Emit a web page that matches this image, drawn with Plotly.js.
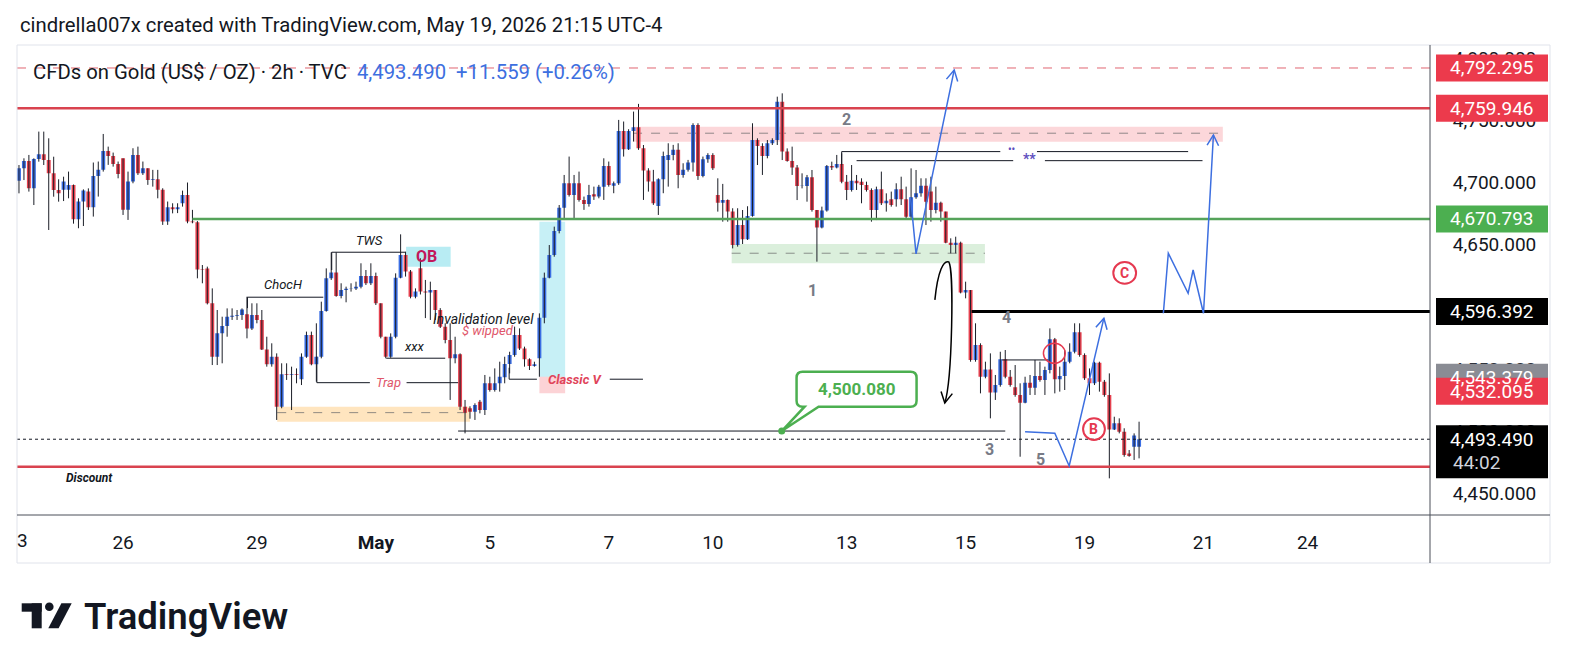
<!DOCTYPE html>
<html><head><meta charset="utf-8">
<script src="https://cdn.plot.ly/plotly-3.0.1.min.js"></script>
<style>html,body{margin:0;padding:0;background:#fff;}#chart{width:1574px;height:667px;}</style>
</head><body><div id="chart"></div>
<script>
// ---------- DATA: XAUUSD (TVC) 2h candles ----------
const openP = [
4701.6,4711.5,4717.4,4695.4,4719.1,4722.8,4718.2,4707.5,4694.1,4694.2,
4694.2,4698.2,4670.5,4684.8,4692.8,4680.2,4705.4,4710.3,4725.5,4721.5,
4715.1,4719.6,4678.1,4700.9,4722.3,4707.6,4711.6,4702.2,4702.7,4694.2,
4668.7,4680.2,4678.6,4683.4,4690.1,4668.7,4668.2,4630.2,4631.0,4602.9,
4559.9,4578.7,4584.6,4592.1,4592.9,4593.5,4594.0,4582.7,4593.5,4589.5,
4565.8,4553.8,4559.9,4519.7,4545.7,4545.2,4545.7,4541.7,4559.9,4577.4,
4553.8,4559.9,4596.7,4623.0,4627.6,4608.8,4613.6,4614.7,4614.9,4616.3,
4624.9,4619.0,4624.9,4602.9,4576.0,4559.9,4576.0,4623.5,4641.8,4628.4,
4608.2,4631.1,4612.3,4611.5,4613.6,4597.5,4584.1,4573.4,4558.7,4561.8,
4519.7,4518.4,4515.7,4523.7,4517.0,4538.5,4533.1,4538.5,4543.3,4554.0,
4561.3,4577.4,4566.6,4557.8,4552.4,4558.6,4591.3,4623.5,4641.8,4661.1,
4679.9,4699.5,4690.1,4699.5,4686.1,4682.9,4690.6,4688.8,4696.8,4713.5,
4697.5,4699.5,4741.6,4726.9,4741.6,4744.6,4727.7,4709.7,4700.9,4681.3,
4702.7,4718.3,4722.3,4726.4,4706.2,4710.3,4716.2,4746.5,4705.4,4718.8,
4722.3,4690.1,4683.9,4686.0,4676.7,4649.8,4665.9,4654.4,4673.2,4734.3,
4729.5,4721.5,4731.7,4734.3,4765.2,4725.0,4717.4,4712.1,4697.3,4697.3,
4704.3,4678.0,4664.0,4677.5,4713.4,4712.1,4715.0,4700.8,4694.1,4701.6,
4700.8,4698.1,4694.1,4678.0,4694.6,4683.4,4686.6,4686.6,4694.6,4686.6,
4672.6,4688.2,4691.4,4697.6,4692.8,4678.0,4683.9,4676.7,4651.7,4649.8,
4651.7,4611.5,4613.6,4557.3,4569.3,4543.8,4549.7,4531.0,4537.1,4557.8,
4543.8,4535.3,4529.1,4522.9,4539.0,4535.0,4544.4,4541.2,4549.2,4573.9,
4541.7,4544.4,4555.9,4563.9,4579.5,4561.3,4542.5,4538.5,4555.1,4539.8,
4529.1,4501.4,4506.3,4499.6,4482.1,4487.5,4487.5];
const highP = [
4714.2,4719.6,4722.3,4719.6,4741.1,4741.1,4735.7,4720.9,4702.7,4704.8,
4708.9,4698.5,4687.4,4694.6,4695.4,4716.2,4717.0,4739.2,4729.0,4724.2,
4717.0,4719.6,4708.9,4727.7,4729.0,4717.0,4711.6,4710.3,4710.3,4695.5,
4684.8,4683.4,4683.4,4693.6,4700.1,4678.1,4669.1,4633.7,4632.4,4614.9,
4597.5,4592.1,4598.8,4598.8,4597.5,4598.8,4608.2,4602.9,4602.9,4597.5,
4576.0,4570.7,4562.6,4554.6,4554.6,4551.9,4550.5,4562.6,4580.1,4580.1,
4586.8,4604.2,4631.0,4643.9,4643.9,4619.0,4616.3,4619.0,4620.3,4635.1,
4629.7,4635.1,4627.6,4602.9,4576.0,4578.7,4627.0,4658.4,4644.5,4629.7,
4614.9,4639.1,4621.7,4620.3,4613.6,4599.0,4586.8,4586.8,4576.0,4562.6,
4525.1,4520.0,4522.4,4525.1,4545.2,4543.8,4550.5,4555.9,4559.9,4563.9,
4584.1,4582.7,4568.0,4558.6,4555.9,4594.8,4627.6,4649.8,4664.6,4682.0,
4706.2,4721.0,4706.2,4708.9,4688.8,4698.2,4696.8,4698.2,4719.6,4717.0,
4700.9,4750.5,4749.2,4743.0,4757.2,4763.4,4730.3,4711.6,4710.3,4703.5,
4725.0,4731.7,4730.4,4731.7,4715.6,4718.3,4747.8,4747.8,4721.0,4723.7,
4723.7,4703.5,4699.0,4686.5,4679.4,4679.4,4678.0,4681.0,4747.8,4735.7,
4731.7,4734.3,4735.7,4769.2,4771.9,4727.6,4729.0,4714.2,4707.5,4706.2,
4710.2,4678.0,4680.7,4714.2,4716.9,4722.3,4723.6,4706.2,4714.2,4706.2,
4703.5,4700.8,4695.4,4696.8,4708.9,4691.4,4692.8,4699.5,4704.8,4696.8,
4711.5,4710.2,4703.5,4703.5,4704.8,4696.8,4684.7,4676.7,4655.2,4656.5,
4652.5,4620.3,4613.6,4586.8,4570.7,4555.9,4562.6,4545.2,4563.9,4565.3,
4549.2,4553.2,4538.5,4543.8,4545.2,4557.3,4555.9,4551.9,4582.7,4575.0,
4551.9,4565.3,4570.7,4586.8,4586.8,4562.6,4550.5,4555.9,4555.9,4541.2,
4546.5,4511.6,4510.3,4502.3,4484.8,4498.2,4507.6];
const lowP = [
4691.4,4702.1,4692.8,4682.0,4716.9,4714.2,4661.9,4688.7,4684.7,4685.2,
4687.4,4667.0,4663.3,4665.1,4678.0,4672.7,4688.8,4708.9,4714.3,4712.9,
4703.5,4674.0,4670.0,4699.5,4706.2,4706.2,4698.2,4696.8,4687.4,4666.0,
4666.0,4675.3,4675.5,4680.7,4667.3,4667.3,4623.0,4619.0,4602.0,4553.2,
4553.2,4554.6,4576.0,4589.5,4589.5,4589.5,4574.7,4581.4,4586.8,4565.3,
4551.9,4551.9,4509.0,4518.4,4541.2,4517.0,4538.5,4537.1,4559.0,4553.0,
4539.8,4558.6,4596.2,4621.7,4608.2,4606.9,4603.7,4612.3,4613.6,4614.9,
4617.6,4617.6,4601.5,4574.7,4558.6,4559.0,4574.7,4623.0,4624.4,4606.9,
4606.9,4610.0,4591.0,4589.5,4589.5,4583.0,4570.7,4525.1,4554.6,4517.0,
4498.2,4510.0,4509.0,4514.3,4513.0,4531.8,4531.8,4531.8,4538.5,4546.5,
4559.9,4565.3,4551.9,4549.2,4551.9,4543.8,4586.8,4623.0,4640.4,4659.2,
4669.9,4688.8,4671.3,4684.7,4678.1,4680.7,4686.1,4687.4,4686.1,4696.8,
4691.5,4698.2,4721.0,4726.3,4733.1,4726.4,4686.1,4692.8,4682.1,4674.0,
4691.5,4696.8,4718.0,4695.5,4704.0,4708.9,4708.9,4702.2,4704.3,4716.0,
4710.2,4676.7,4668.6,4668.6,4647.1,4648.5,4650.6,4653.9,4672.6,4714.2,
4706.2,4719.6,4730.3,4730.3,4718.2,4716.9,4706.2,4686.0,4695.4,4684.7,
4676.7,4636.4,4663.2,4676.7,4710.2,4711.5,4699.5,4686.0,4692.8,4694.1,
4683.4,4692.8,4668.6,4669.9,4682.0,4676.7,4680.7,4680.7,4682.0,4671.3,
4669.9,4687.0,4688.7,4665.9,4668.6,4675.3,4668.6,4651.2,4643.1,4643.1,
4610.9,4606.9,4555.9,4555.9,4530.4,4542.5,4510.3,4525.1,4535.8,4542.5,
4535.8,4527.7,4479.4,4522.4,4529.1,4529.1,4539.8,4529.1,4546.5,4530.4,
4531.8,4533.1,4554.6,4562.6,4559.9,4541.2,4529.1,4537.1,4531.8,4527.7,
4462.0,4500.9,4498.2,4479.4,4479.4,4476.8,4478.1];
const closeP = [
4711.5,4717.4,4695.4,4719.1,4722.8,4718.2,4707.5,4694.1,4691.4,4700.9,
4698.2,4670.5,4684.8,4693.6,4680.2,4705.4,4710.3,4725.5,4721.5,4715.1,
4707.0,4678.1,4700.9,4722.3,4707.6,4711.6,4702.2,4702.7,4694.2,4668.7,
4680.2,4678.6,4680.2,4690.1,4668.7,4668.2,4630.2,4629.7,4602.9,4559.9,
4578.7,4584.6,4592.1,4592.9,4593.5,4598.0,4582.7,4593.5,4589.5,4565.8,
4553.8,4559.9,4519.7,4545.7,4545.2,4545.7,4545.2,4559.9,4577.4,4553.8,
4559.9,4596.7,4623.0,4627.6,4608.8,4613.6,4614.7,4614.9,4616.3,4624.9,
4619.0,4624.9,4602.9,4576.0,4559.9,4576.0,4623.5,4641.8,4628.4,4608.2,
4612.3,4612.3,4611.5,4613.6,4597.5,4584.1,4573.4,4558.7,4561.8,4519.7,
4514.9,4515.7,4521.0,4517.0,4538.5,4533.1,4538.5,4543.8,4554.0,4561.3,
4577.4,4566.6,4557.8,4552.4,4553.8,4591.3,4623.5,4641.8,4661.1,4679.9,
4699.5,4690.1,4699.5,4686.1,4682.9,4690.1,4688.8,4696.8,4713.5,4698.2,
4699.5,4741.6,4726.9,4741.6,4744.6,4727.7,4709.7,4700.9,4683.4,4702.7,
4721.5,4722.3,4726.4,4706.2,4710.3,4716.2,4746.5,4705.4,4718.8,4722.3,
4711.6,4683.9,4686.0,4676.7,4649.8,4665.9,4654.4,4673.2,4734.3,4729.5,
4721.5,4731.7,4734.3,4765.2,4725.0,4717.4,4712.1,4697.3,4697.6,4704.3,
4678.0,4664.0,4677.5,4713.4,4712.1,4715.0,4700.8,4694.1,4701.6,4699.5,
4698.1,4694.1,4678.0,4694.6,4683.4,4685.5,4682.0,4694.6,4686.6,4672.6,
4688.2,4691.4,4697.6,4684.7,4678.0,4683.9,4676.7,4651.7,4649.8,4651.7,
4611.5,4613.6,4557.3,4569.3,4543.8,4549.7,4531.0,4537.1,4557.8,4543.8,
4537.1,4529.1,4522.9,4539.0,4535.0,4544.4,4541.2,4549.2,4573.9,4541.7,
4544.4,4555.9,4563.9,4579.5,4561.3,4542.5,4538.5,4555.1,4539.8,4529.1,
4501.4,4506.3,4499.6,4480.8,4480.0,4496.4,4493.49];

// day labels on the time axis (bar index of each label)
const dayTickIndex = [21, 48, 72, 95, 119, 140, 167, 191, 215, 239, 260];
const dayTickText  = ['26', '29', '<b>May</b>', '5', '7', '10', '13', '15', '19', '21', '24'];

// horizontal levels drawn on the chart
const levelTarget   = 4792.295;
const levelRedTop   = 4759.946;
const levelGreen    = 4670.793;
const levelKey      = 4596.392;
const levelGreyTag  = 4543.379;
const levelRedTag   = 4532.095;
const levelLast     = 4493.490;
const levelDiscount = 4471.4;
const calloutPrice  = 4500.080;
const countdown     = '44:02';

// ---------- geometry helpers ----------
const W = 1574, H = 667;
const PL = 17, PR = 1430, PT = 45, PB = 515;
const XR = [-0.4, 284.7], YR = [4432.5, 4810.8];
const xp = i => PL + (i - XR[0]) / (XR[1] - XR[0]) * (PR - PL);
const yp = p => PB - (p - YR[0]) / (YR[1] - YR[0]) * (PB - PT);
const xi = px => XR[0] + (px - PL) / (PR - PL) * (XR[1] - XR[0]);
const yv = py => YR[0] + (PB - py) / (PB - PT) * (YR[1] - YR[0]);
const paperX = px => (px - PL) / (PR - PL);
const paperY = py => (PB - py) / (PB - PT);
const fmt = v => v.toLocaleString('en-US', {minimumFractionDigits: 3, maximumFractionDigits: 3});

const idx = openP.map((_, i) => i);
const BLUE = '#3b6ee3', RED = '#e5414f';
const FONT = 'Roboto, "Noto Sans", sans-serif';

// wicks
const wx = [], wy = [];
idx.forEach(i => { wx.push(i, i, null); wy.push(lowP[i], highP[i], null); });

const traces = [
  {type: 'scatter', mode: 'lines', x: wx, y: wy, line: {color: '#1b1e27', width: 1}, hoverinfo: 'skip', showlegend: false},
  {type: 'candlestick', x: idx, open: openP, high: highP, low: lowP, close: closeP,
   increasing: {fillcolor: BLUE, line: {color: BLUE, width: 0}},
   decreasing: {fillcolor: RED, line: {color: RED, width: 0}},
   whiskerwidth: 0, hoverinfo: 'skip', showlegend: false}
];

const shapes = [];
const ann = [];
function hline(y, x0, x1, color, width, dash, layer) {
  shapes.push({type: 'line', xref: 'x', yref: 'y', x0: x0, x1: x1, y0: y, y1: y, layer: layer || 'above',
    line: {color: color, width: width, dash: dash || 'solid'}});
}
function fullLine(y, color, width, dash) {
  shapes.push({type: 'line', xref: 'paper', yref: 'y', x0: 0, x1: 1, y0: y, y1: y, layer: 'above',
    line: {color: color, width: width, dash: dash || 'solid'}});
}
function seg(x0, y0, x1, y1, color, width) {
  shapes.push({type: 'line', xref: 'x', yref: 'y', x0: x0, y0: y0, x1: x1, y1: y1, layer: 'above',
    line: {color: color, width: width}});
}
function zone(x0, x1, y0, y1, fill) {
  shapes.push({type: 'rect', xref: 'x', yref: 'y', x0: x0, x1: x1, y0: y0, y1: y1, layer: 'below',
    fillcolor: fill, line: {width: 0}});
}
function poly(pts, color, width) {
  const d = pts.map((p, k) => (k ? 'L' : 'M') + p[0] + ',' + p[1]).join(' ');
  shapes.push({type: 'path', xref: 'x', yref: 'y', path: d, layer: 'above', line: {color: color, width: width}});
}
function arrowHead(tx, ty, fx, fy, color, width) {
  const TX = xp(tx), TY = yp(ty), FX = xp(fx), FY = yp(fy);
  const a = Math.atan2(FY - TY, FX - TX), L = 12, s = 0.5;
  const p1 = [xi(TX + L * Math.cos(a + s)), yv(TY + L * Math.sin(a + s))];
  const p2 = [xi(TX + L * Math.cos(a - s)), yv(TY + L * Math.sin(a - s))];
  poly([p1, [tx, ty], p2], color, width);
}
function circle(x0, x1, y0, y1, color, width) {
  shapes.push({type: 'circle', xref: 'x', yref: 'y', x0: x0, x1: x1, y0: y0, y1: y1, layer: 'above',
    line: {color: color, width: width}});
}
function text(x, y, t, size, color, extra) {
  ann.push(Object.assign({xref: 'x', yref: 'y', x: x, y: y, text: t, showarrow: false,
    font: {family: FONT, size: size, color: color}, xanchor: 'center', yanchor: 'middle'}, extra || {}));
}
function pText(px, py, t, size, color, anchor, weight) {
  ann.push({xref: 'paper', yref: 'paper', x: paperX(px), y: paperY(py), text: t, showarrow: false,
    font: {family: FONT, size: size, color: color, weight: weight || 400}, xanchor: anchor || 'left', yanchor: 'middle'});
}
function pRect(x0, y0, x1, y1, fill, lineColor, lw) {
  shapes.push({type: 'rect', xref: 'paper', yref: 'paper', x0: paperX(x0), x1: paperX(x1), y0: paperY(y1), y1: paperY(y0),
    layer: 'above', fillcolor: fill, line: {color: lineColor || fill, width: lw === undefined ? 0 : lw}});
}
function pPath(pts, fill) {
  const d = pts.map((p, k) => (k ? 'L' : 'M') + paperX(p[0]) + ',' + paperY(p[1])).join(' ') + ' Z';
  shapes.push({type: 'path', xref: 'paper', yref: 'paper', path: d, layer: 'above', fillcolor: fill, line: {width: 0}});
}

// ---------- zones ----------
zone(123.9, 242.9, 4733.0, 4745.1, 'rgba(242,54,69,0.20)');
hline(4739.8, 123.9, 242.9, 'rgba(110,110,110,0.75)', 1, 'dash', 'below');
zone(143.8, 194.9, 4635.1, 4650.6, 'rgba(76,175,80,0.20)');
hline(4643.2, 143.8, 194.9, 'rgba(110,110,110,0.75)', 1, 'dash', 'below');
zone(52.1, 91.0, 4507.6, 4519.7, 'rgba(255,152,0,0.25)');
hline(4514.9, 52.1, 91.0, 'rgba(110,110,110,0.75)', 1, 'dash', 'below');
zone(105.0, 110.2, 4543.8, 4668.6, 'rgba(0,188,212,0.22)');
zone(105.0, 110.2, 4530.5, 4543.8, 'rgba(242,54,69,0.22)');
zone(78.1, 87.1, 4632.4, 4648.5, 'rgba(0,188,212,0.28)');

// ---------- horizontal levels ----------
fullLine(levelTarget, '#e06672', 1, 'dash');
fullLine(levelRedTop, '#d9434f', 2.5);
hline(levelGreen, 35, XR[1], '#55a35a', 2.5);
hline(levelKey, 192.2, XR[1], '#000000', 3);
fullLine(levelDiscount, '#d9434f', 2.5);
fullLine(levelLast, '#131722', 1, 'dot');

// ---------- structure lines ----------
const BLK = '#131722';
hline(4607.8, 46.1, 61.4, BLK, 1); seg(46.1, 4607.8, 46.1, 4599, BLK, 1);
hline(4644.0, 63.1, 77.9, BLK, 1); seg(63.1, 4644.0, 63.1, 4629.7, BLK, 1);
hline(4558.7, 74.1, 86.0, BLK, 1);
hline(4539.0, 60.1, 70.8, BLK, 1); hline(4539.0, 78.2, 88.6, BLK, 1); seg(60.1, 4560, 60.1, 4539.0, BLK, 1);
hline(4541.8, 98.9, 104.5, BLK, 1); hline(4541.8, 119.2, 125.9, BLK, 1); seg(98.9, 4551, 98.9, 4541.8, BLK, 1);
hline(calloutPrice, 88.6, 199.0, BLK, 1);
hline(4725.0, 166.0, 198.0, BLK, 1); hline(4725.0, 205.4, 235.9, BLK, 1); seg(166.0, 4725.0, 166.0, 4714.2, BLK, 1);
hline(4717.7, 169.0, 200.6, BLK, 1); hline(4717.7, 207.0, 238.8, BLK, 1);
hline(4557.3, 198.3, 207.7, BLK, 1);

// ---------- projections (blue) ----------
const PB_BLUE = '#3d6fe0';
const projA = [[179.9, 4688.2], [181.0, 4642.6], [188.7, 4790.7]];
const projB = [[203.0, 4499.6], [209.0, 4498.3], [211.9, 4472.0], [218.9, 4590.9]];
const projC = [[230.9, 4594.9], [231.9, 4643.2], [235.9, 4611.0], [236.9, 4629.7], [239.0, 4594.9], [241.0, 4738.4]];
[projA, projB, projC].forEach(p => {
  poly(p, PB_BLUE, 1.5);
  const n = p.length;
  arrowHead(p[n - 1][0], p[n - 1][1], p[n - 2][0], p[n - 2][1], PB_BLUE, 1.5);
});

// black curved arrow
shapes.push({type: 'path', xref: 'x', yref: 'y', layer: 'above', line: {color: '#000', width: 1.5},
  path: 'M184.8,4605.6 C185.4,4629.7 186.6,4637.8 187.6,4636.2 C188.7,4629.7 188.3,4541.2 186.8,4522.7'});
arrowHead(186.8, 4522.7, 187.6, 4540, '#000', 1.5);

// circles
circle(214.7, 219.1, 4492.9, 4510.4, '#e53950', 2);
circle(220.8, 225.4, 4618.6, 4636.1, '#e53950', 2);
circle(206.7, 211.1, 4554.6, 4570.7, '#e53950', 1.5);

// callout 4,500.080
(function () {
  const cx = 169.0, cy = 4533.8, w = 120, h = 35, r = 6, tipX = 153.9, tipY = calloutPrice;
  const X = xp(cx), Y = yp(cy), l = X - w / 2, rr = X + w / 2, t = Y - h / 2, b = Y + h / 2;
  const P = (px, py) => xi(px).toFixed(3) + ',' + yv(py).toFixed(3);
  const d = `M${P(l + r, t)} L${P(rr - r, t)} Q${P(rr, t)} ${P(rr, t + r)} L${P(rr, b - r)} Q${P(rr, b)} ${P(rr - r, b)} ` +
            `L${P(l + 22, b)} L${tipX},${tipY} L${P(l + 8, b)} L${P(l + r, b)} Q${P(l, b)} ${P(l, b - r)} L${P(l, t + r)} Q${P(l, t)} ${P(l + r, t)} Z`;
  shapes.push({type: 'path', xref: 'x', yref: 'y', path: d, layer: 'above', fillcolor: '#ffffff', line: {color: '#4caf50', width: 2.5}});
  const TX = xp(tipX), TY = yp(tipY);
  shapes.push({type: 'circle', xref: 'x', yref: 'y', x0: xi(TX - 3.5), x1: xi(TX + 3.5), y0: yv(TY + 3.5), y1: yv(TY - 3.5),
    layer: 'above', fillcolor: '#4caf50', line: {width: 0}});
  text(cx, cy, '<b>' + fmt(calloutPrice) + '</b>', 17, '#4caf50');
})();

// ---------- chart texts ----------
text(53.3, 4617.7, '<i>ChocH</i>', 13, BLK);
text(70.7, 4653.3, '<i>TWS</i>', 13, BLK);
text(82.3, 4640.8, '<b>OB</b>', 16, '#c2185b');
text(79.9, 4568.0, '<i>xxx</i>', 13, BLK);
text(74.5, 4539.3, '<i>Trap</i>', 13, '#e0566a');
text(93.8, 4590.3, '<i>Invalidation level</i>', 14, BLK);
text(94.6, 4581.4, '<i>$ wipped</i>', 13, '#e0566a');
text(112.2, 4541.8, '<b><i>Classic V</i></b>', 13, '#e0445a');
text(14.3, 4462.1, '<b><i>Discount</i></b>', 12, BLK);
text(160.1, 4613.6, '<b>1</b>', 16, '#787b86');
text(167.0, 4750.5, '<b>2</b>', 16, '#787b86');
text(195.9, 4485.4, '<b>3</b>', 16, '#787b86');
text(199.2, 4591.3, '<b>4</b>', 16, '#787b86');
text(206.2, 4477.4, '<b>5</b>', 16, '#787b86');
text(216.9, 4501.6, '<b>B</b>', 14, '#e53950');
text(223.1, 4627.4, '<b>C</b>', 14, '#e53950');
text(200.2, 4727.0, '<b>••</b>', 10, '#5e4fc0');
text(203.9, 4719.4, '<b>**</b>', 14, '#5e4fc0');

// ---------- frame ----------
pRect(17, 45, 1550, 563, 'rgba(0,0,0,0)', '#e0e3eb', 1);
shapes.push({type: 'line', xref: 'paper', yref: 'paper', x0: paperX(17), x1: paperX(1550), y0: paperY(515), y1: paperY(515), layer: 'above', line: {color: '#4a4e59', width: 1}});
shapes.push({type: 'line', xref: 'paper', yref: 'paper', x0: paperX(1430), x1: paperX(1430), y0: paperY(45), y1: paperY(563), layer: 'above', line: {color: '#4a4e59', width: 1}});

// ---------- price-scale tags ----------
function tag(price, bg, fg, label) {
  const y = yp(price);
  pRect(1436, y - 13.5, 1548, y + 13.5, bg);
  pText(1492, y, label, 19, fg, 'center');
}
tag(levelTarget, '#ec3a4c', '#ffffff', fmt(levelTarget));
tag(levelRedTop, '#ec3a4c', '#ffffff', fmt(levelRedTop));
tag(levelGreen, '#4caf50', '#ffffff', fmt(levelGreen));
tag(levelKey, '#000000', '#ffffff', fmt(levelKey));
tag(levelGreyTag, '#8a8c94', '#ffffff', fmt(levelGreyTag));
tag(levelRedTag, '#ec3a4c', '#ffffff', fmt(levelRedTag));
(function () {
  const y = yp(levelLast);
  pRect(1436, y - 14, 1548, y + 39, '#000000');
  pText(1492, y, fmt(levelLast), 19, '#ffffff', 'center');
  pText(1451, y + 23, countdown, 19, '#d1d4dc', 'left');
})();

// ---------- header / footer ----------
pText(18, 25, 'cindrella007x created with TradingView.com, May 19, 2026 21:15 UTC-4', 20.3, '#131722');
pText(31, 72, 'CFDs on Gold (US$ / OZ) · 2h · TVC&nbsp;&nbsp;<span style="color:#3d6fe0">4,493.490&nbsp;&nbsp;+11.559 (+0.26%)</span>', 20.3, '#131722');
pText(22, 540, '3', 19, '#131722', 'center');

// TradingView logo
pRect(21.7, 603.3, 41.7, 611.7, '#131722');
pRect(31.7, 603.3, 41.7, 628.3, '#131722');
shapes.push({type: 'circle', xref: 'paper', yref: 'paper', x0: paperX(45), x1: paperX(53.6), y0: paperY(611), y1: paperY(602.4), layer: 'above', fillcolor: '#131722', line: {width: 0}});
pPath([[48.3, 628.3], [58.6, 628.3], [71.7, 603.3], [61.4, 603.3]], '#131722');
pText(82, 616.5, 'TradingView', 36.5, '#131722', 'left', 600);

const layout = {
  width: W, height: H,
  margin: {l: PL, r: W - PR, t: PT, b: H - PB, pad: 0},
  paper_bgcolor: '#ffffff', plot_bgcolor: '#ffffff',
  showlegend: false, hovermode: false, boxgap: 0.2, boxgroupgap: 0,
  font: {family: FONT, color: '#131722'},
  xaxis: {range: XR, type: 'linear', showgrid: false, zeroline: false, showline: false,
    tickvals: dayTickIndex, ticktext: dayTickText, ticks: 'outside', ticklen: 10, tickcolor: 'rgba(0,0,0,0)',
    tickfont: {family: FONT, size: 19, color: '#131722'}, rangeslider: {visible: false}, fixedrange: true},
  yaxis: {range: YR, side: 'right', showgrid: false, zeroline: false, showline: false,
    tick0: 4450, dtick: 50, tickformat: ',.3f', ticks: 'outside', ticklen: 18, tickcolor: 'rgba(0,0,0,0)',
    tickfont: {family: FONT, size: 19, color: '#131722'}, fixedrange: true},
  shapes: shapes, annotations: ann
};
Plotly.newPlot('chart', traces, layout, {staticPlot: true, displayModeBar: false});
</script></body></html>
